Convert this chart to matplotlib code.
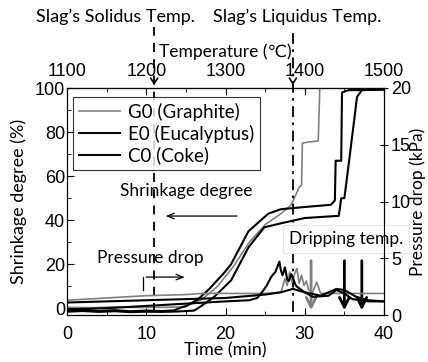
import matplotlib
matplotlib.use("Agg")
import matplotlib.pyplot as plt
import numpy as np

# --- shrinkage degree (%) vs time (min) ---
t_g = [0, 3, 6, 9, 12, 14, 15, 17, 19, 21, 23, 25, 27, 28.3, 28.8, 29.3, 29.6, 29.7, 30.5, 31.7, 31.9, 40]
s_g = [0.5, 0.3, 0.6, 0.4, 0.5, 0.6, 1, 4, 10, 19, 30, 38, 43, 47, 51, 55, 56, 75, 75.5, 76, 100.5, 100.5]

t_e = [0, 2, 4, 6, 8, 10, 12, 13.5, 14.5, 15, 16.5, 18, 19.8, 20.7, 22.9, 25.4, 27, 30, 33.3, 33.8, 33.9, 34.6, 34.7, 35.5, 40]
s_e = [-1, -0.5, -1.2, -0.8, -1.3, -1, -1.2, -0.9, 0.5, 1, 4, 9, 16, 20, 35, 43, 45, 46, 47, 49, 67, 67, 98, 99, 99.2]

t_c = [0, 2, 4, 6, 8, 10, 12, 14, 16, 16.5, 18.5, 20.7, 22.9, 24.9, 27, 30, 34.3, 34.6, 35.0, 35.6, 36.6, 37.2, 40]
s_c = [-1.5, -1.2, -1.6, -1.3, -1.7, -1.5, -1.6, -1.4, -1, 0, 5, 12.7, 27.7, 36.8, 38.6, 41, 42, 50, 50, 67, 96, 99, 99.5]

# --- pressure drop (kPa) vs time (min) ---
tp_g = [0, 5, 10, 15, 17, 20, 25, 27, 27.5, 27.8, 28.1, 28.4, 28.7, 29.0, 29.3, 29.6, 29.9, 30.2, 30.5, 31, 31.5, 32, 35, 40]
p_g = [1.3, 1.5, 1.7, 1.8, 1.9, 1.9, 1.9, 2.0, 3.2, 2.6, 3.8, 2.9, 3.6, 4.1, 2.8, 3.5, 2.6, 3.0, 2.2, 2.0, 2.9, 1.9, 1.9, 1.9]

tp_e = [0, 5, 10, 15, 20, 23, 24, 24.5, 25.2, 25.8, 26.3, 26.8, 27.0, 27.2, 27.5, 27.8, 28.0, 28.3, 28.5, 28.8, 29, 30, 31, 33, 34, 35, 36, 38, 40]
p_e = [0.5, 0.6, 0.8, 1.0, 1.2, 1.3, 1.5, 1.9, 2.6, 3.4, 3.8, 4.7, 3.9, 3.5, 4.2, 3.1, 3.0, 3.6, 3.3, 2.7, 2.5, 2.0, 1.6, 1.7, 2.2, 1.9, 1.4, 1.2, 1.2]

tp_c = [0, 5, 10, 15, 20, 25, 27, 28.5, 30, 32, 34, 35, 36.5, 38, 40]
p_c = [1.1, 1.2, 1.3, 1.4, 1.5, 1.8, 2.0, 2.3, 2.0, 1.7, 2.3, 2.2, 1.6, 1.3, 1.2]

t_solidus = 11.0
t_liquidus = 28.5
t_drip = [30.8, 35.0, 37.2]
drip_colors = ["#7f7f7f", "black", "black"]

txt = "Lato"
num = "Liberation Sans"

fig = plt.figure(figsize=(4.28, 3.62), dpi=100)
ax = fig.add_axes([67 / 428, 1 - 315 / 362, 317 / 428, 227 / 362])
ax2 = ax.twinx()

ax.plot(t_g, s_g, color="#7f7f7f", lw=1.2, label="G0 (Graphite)")
ax.plot(t_e, s_e, color="black", lw=1.5, label="E0 (Eucalyptus)")
ax.plot(t_c, s_c, color="black", lw=1.5, label="C0 (Coke)")
ax2.plot(tp_g, p_g, color="#7f7f7f", lw=1.2)
ax2.plot(tp_e, p_e, color="black", lw=1.5)
ax2.plot(tp_c, p_c, color="black", lw=1.5)

ax.set_xlim(0, 40)
ax.set_ylim(-3, 100)
ax2.set_ylim(0, 20)
ax.set_xticks([0, 10, 20, 30, 40])
ax.set_xticks(np.arange(0, 41, 5), minor=True)
ax.set_yticks([0, 20, 40, 60, 80, 100])
ax.set_yticks(np.arange(0, 101, 10), minor=True)
ax2.set_yticks([0, 5, 10, 15, 20])
ax.tick_params(axis="both", which="both", direction="in", labelsize=13)
ax.tick_params(axis="x", pad=8)
ax.tick_params(axis="y", pad=1.5)
ax.tick_params(which="major", length=5)
ax.tick_params(which="minor", length=3)
ax2.tick_params(axis="y", direction="inout", length=6, labelsize=13, pad=2)
for lab in ax.get_xticklabels() + ax.get_yticklabels() + ax2.get_yticklabels():
    lab.set_fontfamily(num)

# temperature axis on top
top = ax.secondary_xaxis("top", functions=(lambda t: 1100 + 10 * t, lambda T: (T - 1100) / 10))
top.set_xticks([1100, 1200, 1300, 1400, 1500])
top.set_xticks(np.arange(1100, 1501, 50), minor=True)
top.tick_params(which="both", direction="in", labelsize=13, pad=6)
top.tick_params(which="major", length=5)
top.tick_params(which="minor", length=3)
for lab in top.get_xticklabels():
    lab.set_fontfamily(num)
fig.text(225.5 / 428, 1 - 52 / 362, "Temperature (℃)", ha="center", va="center",
         fontsize=12.5, family=[txt, "DejaVu Sans"])

ax.set_xlabel("Time (min)", fontsize=13, family=txt)
ax.xaxis.set_label_coords(0.5, -0.12)
ax.set_ylabel("Shrinkage degree (%)", fontsize=13, family=txt)
ax.yaxis.set_label_coords(-0.125, 0.5)
ax2.set_ylabel("Pressure drop (kPa)", fontsize=12.5, family=txt)
ax2.yaxis.set_label_coords(1.08, 0.5)

# slag solidus / liquidus lines
ax.plot([t_solidus, t_solidus], [-1.5, 127.5], color="black", ls=(0, (5, 4)), lw=1.3, clip_on=False)
ax.plot([t_liquidus, t_liquidus], [-1.5, 125.5], color="black", ls=(0, (6, 3, 1.5, 3)), lw=1.3, clip_on=False)
for tx in [t_solidus, t_liquidus]:
    ax.annotate("", xy=(tx, 100), xytext=(tx, 104), annotation_clip=False,
                arrowprops=dict(arrowstyle="->,head_width=0.25,head_length=0.4", lw=1.2, color="black"))
fig.text(115 / 428, 1 - 17 / 362, "Slag’s Solidus Temp.", ha="center", va="center", fontsize=13, family=txt)
fig.text(297 / 428, 1 - 17 / 362, "Slag’s Liquidus Temp.", ha="center", va="center", fontsize=13, family=txt)

# legend
leg = ax.legend(loc="upper left", bbox_to_anchor=(0.02, 0.96), frameon=True, fancybox=False,
                edgecolor="black", prop={"family": txt, "size": 13.5}, handlelength=2.2,
                labelspacing=0.2, borderpad=0.3, handletextpad=0.4, borderaxespad=0)
leg.get_frame().set_linewidth(0.8)

# annotations
ax.text(15.0, 53.3, "Shrinkage degree", ha="center", va="center", fontsize=12.5, family=txt)
ax.annotate("", xy=(12.1, 41.9), xytext=(21.8, 41.9),
            arrowprops=dict(arrowstyle="->,head_width=0.2,head_length=0.5", lw=0.9, color="black"))
ax.text(10.5, 22.9, "Pressure drop", ha="center", va="center", fontsize=12.5, family=txt)
ax.plot([9.65, 9.65], [8.3, 14.2], color="black", lw=0.9)
ax.annotate("", xy=(15.2, 14.2), xytext=(9.65, 14.2),
            arrowprops=dict(arrowstyle="->,head_width=0.2,head_length=0.5", lw=0.9, color="black"))

ax.text(35.2, 31.5, "Dripping temp.", ha="center", va="center", fontsize=12.5, family=txt, zorder=10,
        clip_on=False, bbox=dict(boxstyle="square,pad=0.35", fc="white", ec="#e6e6e6", lw=0.8))
for tx, c in zip(t_drip, drip_colors):
    ax.annotate("", xy=(tx, -2.1), xytext=(tx, 22.9),
                arrowprops=dict(arrowstyle="->,head_width=0.35,head_length=0.7", lw=2.0, color=c))

fig.savefig("out.png", dpi=100)
